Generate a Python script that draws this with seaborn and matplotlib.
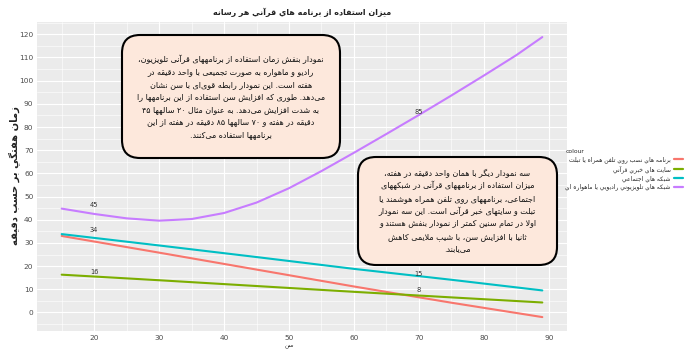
import re
import pandas as pd
import matplotlib
matplotlib.use("Agg")
import matplotlib.pyplot as plt
from matplotlib.patches import FancyBboxPatch
import seaborn as sns

# values (minutes per week by age)
age_purple = [15, 20, 25, 30, 35, 40, 45, 50, 55, 60, 65, 70, 75, 80, 85, 89]
tv_radio_sat = [44.8, 42.5, 40.6, 39.6, 40.3, 42.9, 47.4, 53.6, 61.0, 68.9, 77.0, 85.2, 93.6, 102.2, 111.0, 118.8]
age_other = [15, 30, 45, 60, 75, 89]
mobile_apps = [33.0, 25.8, 18.5, 11.2, 4.2, -2.0]
news_sites = [16.3, 13.9, 11.4, 8.9, 6.5, 4.3]
social_nets = [33.8, 28.9, 23.9, 18.8, 14.1, 9.5]

label_age = [20, 20, 20, 70, 70, 70]
label_val = [45, 34, 16, 85, 15, 8]

series_names = [
    "برنامه هاي نصب روي تلفن همراه يا تبلت",
    "سايت هاي خبري قرآني",
    "شبكه هاي اجتماعي",
    "شبكه هاي تلويزيوني راديويي يا ماهواره اي",
]
series_colors = ["#F8766D", "#7CAE00", "#00BFC4", "#C77CFF"]

title = "ميزان استفاده از برنامه هاي قرآني هر رسانه"
x_title = "سن"
y_title = "زمان هفتگي بر حسب دقيقه"

note_purple = [
    "نمودار بنفش زمان استفاده از برنامههای قرآنی تلویزیون،",
    "رادیو و ماهواره به صورت تجمیعی با واحد دقیقه در",
    "هفته است. این نمودار رابطه قوی\u200cای با سن نشان",
    "می\u200cدهد. طوری که افزایش سن استفاده از این برنامهها را",
    "به شدت افزایش می\u200cدهد. به عنوان مثال ۲۰ سالهها ۴۵",
    "دقیقه در هفته و ۷۰ سالهها ۸۵ دقیقه در هفته از این",
    "برنامهها استفاده می\u200cکنند.",
]
note_others = [
    "سه نمودار دیگر با همان واحد دقیقه در هفته،",
    "میزان استفاده از برنامههای قرآنی در شبکههای",
    "اجتماعی، برنامههای روی تلفن همراه هوشمند یا",
    "تبلت و سایتهای خبر قرآنی است. این سه نمودار",
    "اولا در تمام سنین کمتر از نمودار بنفش هستند و",
    "ثانیا با افزایش سن، با شیب ملایمی کاهش",
    "می\u200cیابند.",
]

# matplotlib has no arabic shaping: map letters to presentation forms and reverse
dual = {'ب': 0xFE8F, 'ت': 0xFE95, 'ث': 0xFE99, 'ج': 0xFE9D, 'ح': 0xFEA1, 'خ': 0xFEA5,
        'س': 0xFEB1, 'ش': 0xFEB5, 'ص': 0xFEB9, 'ض': 0xFEBD, 'ط': 0xFEC1, 'ظ': 0xFEC5,
        'ع': 0xFEC9, 'غ': 0xFECD, 'ف': 0xFED1, 'ق': 0xFED5, 'ك': 0xFED9, 'ل': 0xFEDD,
        'م': 0xFEE1, 'ن': 0xFEE5, 'ه': 0xFEE9, 'ي': 0xFEF1, 'ئ': 0xFE89, 'پ': 0xFB56,
        'چ': 0xFB7A, 'ک': 0xFB8E, 'گ': 0xFB92, 'ی': 0xFBFC}
right = {'ا': 0xFE8D, 'آ': 0xFE81, 'أ': 0xFE83, 'إ': 0xFE87, 'ؤ': 0xFE85, 'د': 0xFEA9,
         'ذ': 0xFEAB, 'ر': 0xFEAD, 'ز': 0xFEAF, 'ژ': 0xFB8A, 'و': 0xFEED, 'ة': 0xFE93}
lam_alef = {'ا': 0xFEFB, 'آ': 0xFEF5, 'أ': 0xFEF7, 'إ': 0xFEF9}


def rtl(s):
    out = []
    i = 0
    n = len(s)
    while i < n:
        c = s[i]
        prev = s[i - 1] if i > 0 else ''
        joins_prev = prev in dual and (c in dual or c in right)
        if c == 'ل' and i + 1 < n and s[i + 1] in lam_alef:
            out.append(chr(lam_alef[s[i + 1]] + joins_prev))
            i += 2
            continue
        nxt = s[i + 1] if i + 1 < n else ''
        if c in dual:
            joins_next = nxt in dual or nxt in right
            out.append(chr(dual[c] + [[0, 2], [1, 3]][joins_prev][joins_next]))
        elif c in right:
            out.append(chr(right[c] + joins_prev))
        elif c != '\u200c':
            out.append(c)
        i += 1
    vis = ''.join(reversed(out))
    return re.sub(r'[0-9\u06F0-\u06F9A-Za-z]+', lambda m: m.group(0)[::-1], vis)


df = pd.concat([
    pd.DataFrame({'age': age_other, 'minutes': mobile_apps, 'colour': series_names[0]}),
    pd.DataFrame({'age': age_other, 'minutes': news_sites, 'colour': series_names[1]}),
    pd.DataFrame({'age': age_other, 'minutes': social_nets, 'colour': series_names[2]}),
    pd.DataFrame({'age': age_purple, 'minutes': tv_radio_sat, 'colour': series_names[3]}),
])

sns.set_style("darkgrid", {"axes.facecolor": "#EBEBEB", "grid.color": "white"})
plt.rcParams['font.family'] = ['DejaVu Sans']

fig = plt.figure(figsize=(6.9, 3.5), dpi=100)
ax = fig.add_axes([37 / 690, 19 / 350, 530 / 690, 309 / 350])
sns.lineplot(data=df, x='age', y='minutes', hue='colour', hue_order=series_names,
             palette=series_colors, linewidth=1.5, ax=ax)

for a, v in zip(label_age, label_val):
    ax.annotate(str(v), (a, v), xytext=(0, 2.5), textcoords='offset points',
                ha='center', va='center', fontsize=4.8, color='#333333')

ax.set_xlim(11.2, 92.8)
ax.set_ylim(-8.0, 125.3)
ax.set_xticks(range(20, 91, 10))
ax.set_yticks(range(0, 121, 10))
ax.set_xticks(range(15, 91, 10), minor=True)
ax.set_yticks(range(-5, 126, 10), minor=True)
ax.grid(which='major', color='white', linewidth=0.8)
ax.grid(which='minor', color='white', linewidth=0.4)
ax.tick_params(which='major', labelsize=5.3, labelcolor='#4D4D4D', length=1.6,
               width=0.5, color='#333333', pad=1.0)
ax.tick_params(which='minor', length=0)
for sp in ax.spines.values():
    sp.set_visible(False)
ax.set_xlabel('')
ax.set_ylabel('')

handles, labels = ax.get_legend_handles_labels()
ax.get_legend().remove()
for h in handles:
    h.set_linewidth(1.6)
fig.legend(handles, [rtl(l) for l in labels], title='colour', markerfirst=False,
           loc='center right', bbox_to_anchor=(0.998, 0.515), frameon=False,
           fontsize=4.3, title_fontsize=4.3, handlelength=1.6, handletextpad=0.5,
           labelspacing=0.35, alignment='left')

fig.text(302 / 690, 1 - 12 / 350, rtl(title), ha='center', va='center',
         fontsize=5.8, fontweight='bold', color='#222222')
fig.text(289 / 690, 1 - 345.5 / 350, rtl(x_title), ha='center', va='center',
         fontsize=4.3, color='#333333')
fig.text(14 / 690, 1 - 176 / 350, rtl(y_title), ha='center', va='center',
         rotation=90, fontsize=7.2, fontweight='bold', color='#222222')

# the two rounded note boxes, in figure inches so the corners stay round
for (x0, y0, w, h), lines in [((1.22, 1.92, 2.18, 1.23), note_purple),
                              ((3.58, 0.85, 1.99, 1.08), note_others)]:
    box = FancyBboxPatch((x0, y0), w, h, boxstyle='round,pad=0,rounding_size=0.18',
                         transform=fig.dpi_scale_trans, fc='#FDE8DC', ec='black',
                         lw=1.5, zorder=5)
    fig.add_artist(box)
    fig.text(x0 + w / 2, y0 + h / 2, '\n'.join(rtl(l) for l in lines),
             transform=fig.dpi_scale_trans, ha='center', va='center', ma='center',
             fontsize=5.8, linespacing=1.5, color='#111111', zorder=6)

fig.savefig('out.png', dpi=100)
